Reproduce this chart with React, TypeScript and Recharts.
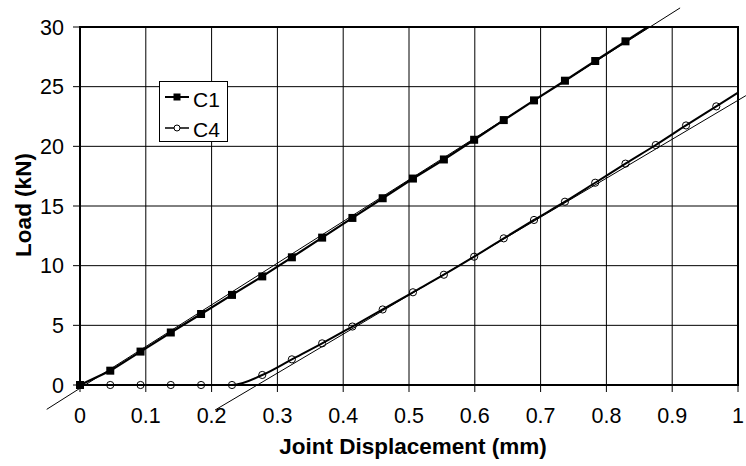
import React from 'react';
import {
  LineChart,
  Line,
  XAxis,
  YAxis,
  CartesianGrid,
  ReferenceLine,
  ReferenceArea,
  Legend,
} from 'recharts';

const FONT = '"Liberation Sans", Arial, sans-serif';

// C1 measured points (markers)
const C1_X = [0, 0.046, 0.092, 0.138, 0.184, 0.231, 0.277, 0.322, 0.368, 0.414, 0.46, 0.506, 0.553, 0.599, 0.644, 0.69, 0.737, 0.783, 0.829];
const C1_Y = [0, 1.2, 2.8, 4.4, 5.95, 7.55, 9.1, 10.7, 12.35, 14.0, 15.65, 17.3, 18.9, 20.55, 22.2, 23.85, 25.5, 27.15, 28.8];
const C1_END = { x: 0.863, y: 30 };

// C4 measured points (markers)
const C4_X = [0, 0.046, 0.092, 0.138, 0.184, 0.231, 0.277, 0.322, 0.368, 0.414, 0.46, 0.506, 0.553, 0.599, 0.644, 0.69, 0.737, 0.783, 0.829, 0.875, 0.921, 0.967];
const C4_Y = [0, 0, 0, 0, 0, 0, 0.84, 2.15, 3.49, 4.9, 6.33, 7.77, 9.24, 10.75, 12.29, 13.83, 15.36, 16.95, 18.55, 20.11, 21.75, 23.35];
const C4_END = { x: 1.0, y: 24.5 };

// Tangent (stiffness) lines
const TANGENT_C1 = [{ x: -0.0506, y: -2.04 }, { x: 0.912, y: 31.6 }];
const TANGENT_C4 = [{ x: 0.2052, y: -2.1 }, { x: 1.012, y: 24.25 }];

const X_TICKS = [0, 0.1, 0.2, 0.3, 0.4, 0.5, 0.6, 0.7, 0.8, 0.9, 1];
const Y_TICKS = [0, 5, 10, 15, 20, 25, 30];
const SERIES_NAMES = ['C1', 'C4'];

const c1Data = [...C1_X.map((x, i) => ({ x, y: C1_Y[i] })), C1_END];
const c4Data = [...C4_X.map((x, i) => ({ x, y: C4_Y[i] })), C4_END];

const SquareDot = (props: any) => {
  const { cx, cy, index } = props;
  if (index >= C1_X.length || cx == null || cy == null) return <g key={`s${index}`} />;
  return <rect key={`s${index}`} x={cx - 4} y={cy - 4} width={8} height={8} fill="#000" />;
};

const CircleDot = (props: any) => {
  const { cx, cy, index } = props;
  if (index >= C4_X.length || cx == null || cy == null) return <g key={`c${index}`} />;
  return <circle key={`c${index}`} cx={cx} cy={cy} r={3.6} fill="none" stroke="#000" strokeWidth={1} />;
};

const renderLegend = () => (
  <svg width={69} height={61} style={{ display: 'block' }}>
    <rect x={0.5} y={0.5} width={68} height={60} fill="#fff" stroke="#000" strokeWidth={1} />
    <line x1={6} y1={16} x2={30} y2={16} stroke="#000" strokeWidth={2} />
    <rect x={14.5} y={12.5} width={7} height={7} fill="#000" />
    <text x={34} y={25.7} fontFamily={FONT} fontSize={21} fill="#000">{SERIES_NAMES[0]}</text>
    <line x1={6} y1={47} x2={30} y2={47} stroke="#000" strokeWidth={1.5} />
    <circle cx={18} cy={47} r={3} fill="#fff" stroke="#000" strokeWidth={1} />
    <text x={34} y={55.7} fontFamily={FONT} fontSize={21} fill="#000">{SERIES_NAMES[1]}</text>
  </svg>
);

const YLabel = () => (
  <text
    x={23}
    y={205}
    transform="rotate(-90 23 205)"
    textAnchor="middle"
    dominantBaseline="central"
    fontFamily={FONT}
    fontSize={22.5}
    fontWeight="bold"
    fill="#000"
  >
    Load (kN)
  </text>
);

const XLabel = () => (
  <text x={413} y={454} textAnchor="middle" fontFamily={FONT} fontSize={22.5} fontWeight="bold" fill="#000">
    Joint Displacement (mm)
  </text>
);

export default function App() {
  return (
    <div style={{ position: 'absolute', left: 0, top: 0, width: 746, height: 466, background: '#fff' }}>
      <LineChart width={746} height={466} margin={{ top: 27, right: 8, bottom: 0, left: 0 }}>
        <CartesianGrid stroke="#000" strokeWidth={1} />
        <XAxis
          type="number"
          dataKey="x"
          domain={[0, 1]}
          ticks={X_TICKS}
          height={81}
          tickSize={7}
          tickMargin={16}
          tickLine={{ stroke: '#000' }}
          axisLine={{ stroke: '#000', strokeWidth: 2 }}
          tick={{ fontFamily: FONT, fontSize: 21.5, fill: '#000' }}
          tickFormatter={(v: number) => String(v)}
          label={<XLabel />}
        />
        <YAxis
          type="number"
          domain={[0, 30]}
          ticks={Y_TICKS}
          width={80}
          tickSize={7}
          tickMargin={9}
          tickLine={{ stroke: '#000' }}
          axisLine={{ stroke: '#000', strokeWidth: 2 }}
          tick={{ fontFamily: FONT, fontSize: 21.5, fill: '#000' }}
          label={<YLabel />}
        />
        <ReferenceArea x1={0} x2={1} y1={0} y2={30} fill="none" stroke="#000" strokeWidth={2} />
        <ReferenceLine segment={TANGENT_C1} ifOverflow="visible" stroke="#000" strokeWidth={1} />
        <ReferenceLine segment={TANGENT_C4} ifOverflow="visible" stroke="#000" strokeWidth={1} />
        <Line
          data={c1Data}
          dataKey="y"
          name={SERIES_NAMES[0]}
          type="linear"
          stroke="#000"
          strokeWidth={2.2}
          dot={SquareDot}
          activeDot={false}
          isAnimationActive={false}
        />
        <Line
          data={c4Data}
          dataKey="y"
          name={SERIES_NAMES[1]}
          type="monotone"
          stroke="#000"
          strokeWidth={2}
          dot={CircleDot}
          activeDot={false}
          isAnimationActive={false}
        />
        <Legend
          layout="horizontal"
          verticalAlign="middle"
          align="center"
          content={renderLegend}
          wrapperStyle={{ position: 'absolute', left: 159, top: 81, width: 69, height: 61 }}
        />
      </LineChart>
    </div>
  );
}
